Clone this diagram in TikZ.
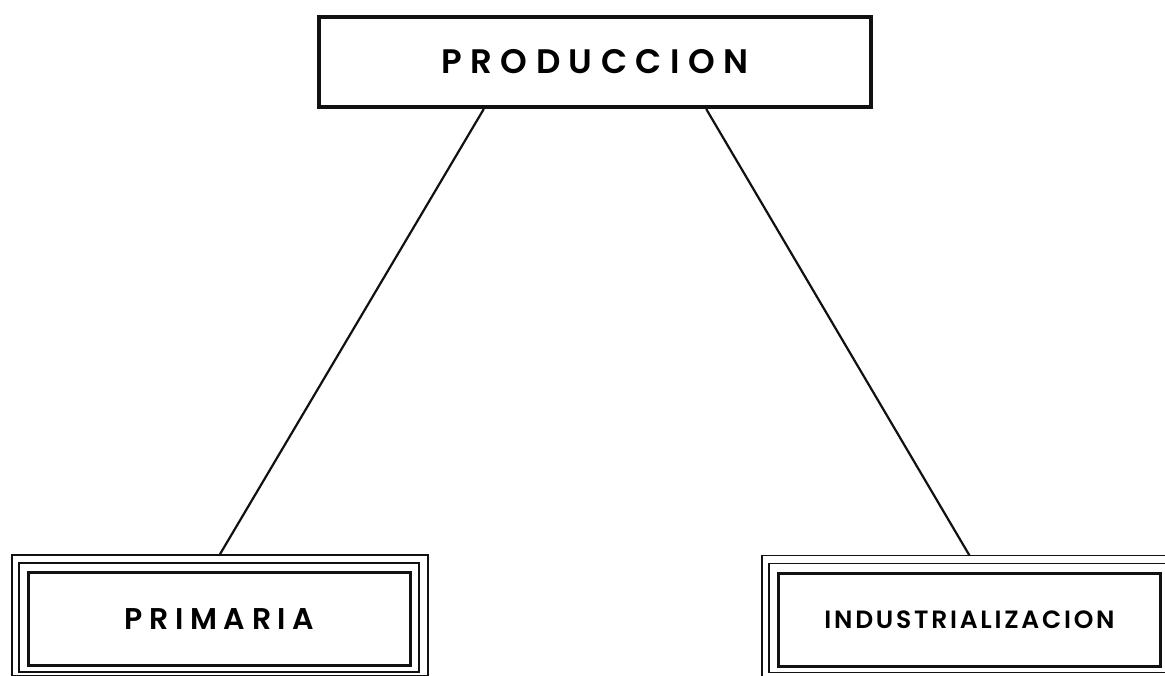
\documentclass[tikz,border=0pt]{standalone}
\usepackage{fontspec}
\setmainfont{Poppins}[BoldFont={Poppins SemiBold}]
\usepackage{tikz}
\usetikzlibrary{positioning,calc}
\definecolor{tinta}{HTML}{111111}
\tikzset{
  % cajas
  cabeza/.style={draw=tinta,line width=4pt,minimum width=552pt,minimum height=90pt,
                 inner sep=0pt,font=\bfseries\fontsize{34}{34}\selectfont\addfontfeature{LetterSpace=25}},
  rama/.style={draw=tinta,line width=3pt,minimum width=382pt,minimum height=93pt,
               inner sep=0pt},
  marco/.style={draw=tinta,line width=1.2pt},
  enlace/.style={draw=tinta,line width=2.2pt},
}
\begin{document}
\begin{tikzpicture}[x=1pt,y=-1pt]
\useasboundingbox (0,0) rectangle (1165,676);
  \node[cabeza] (prod) at (595,62) {PRODUCCION};
  \node[rama,font=\bfseries\fontsize{30}{30}\selectfont\addfontfeature{LetterSpace=22}] (prim) at (219.5,619) {PRIMARIA};
  \node[rama,font=\bfseries\fontsize{25}{25}\selectfont\addfontfeature{LetterSpace=11}] (indu) at (969.5,619.5) {INDUSTRIALIZACION};
  % marcos finos de las ramas
  \foreach \n in {prim,indu}{
    \draw[marco] ([shift={(-8pt,8pt)}]\n.north west) rectangle ([shift={(7pt,-5pt)}]\n.south east);
    \draw[marco] ([shift={(-15pt,16pt)}]\n.north west) rectangle ([shift={(16pt,-9pt)}]\n.south east);
  }
  \draw[enlace] ($(prod.south west)!0.3!(prod.south east)$) -- ([yshift=16pt]prim.north);
  \draw[enlace] ($(prod.south west)!0.7!(prod.south east)$) -- ([yshift=16pt]indu.north);
\end{tikzpicture}
\end{document}
